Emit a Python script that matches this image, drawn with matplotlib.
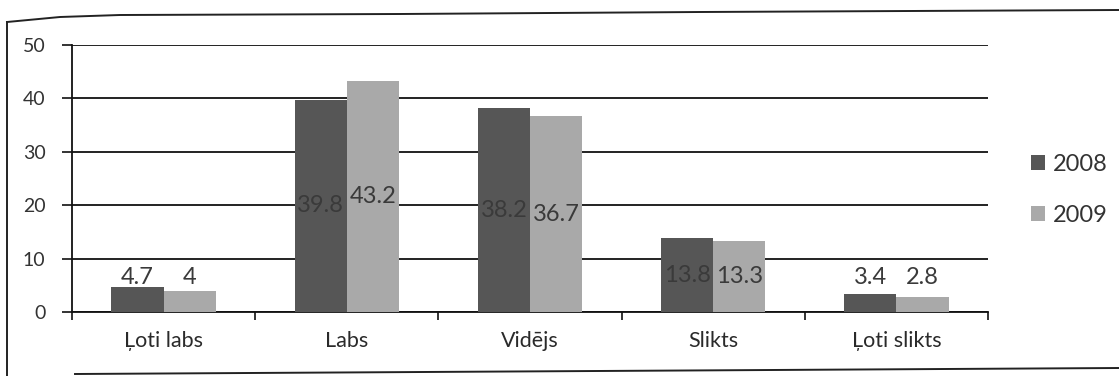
import matplotlib
matplotlib.use("Agg")
import matplotlib.pyplot as plt
from matplotlib.lines import Line2D
import numpy as np

plt.rcParams['font.family'] = ['Lato', 'DejaVu Sans']

categories = ["Ļoti labs", "Labs", "Vidējs", "Slikts", "Ļoti slikts"]
series_names = ["2008", "2009"]
values_2008 = [4.7, 39.8, 38.2, 13.8, 3.4]
values_2009 = [4, 43.2, 36.7, 13.3, 2.8]
y_ticks = [0, 10, 20, 30, 40, 50]

colors = ["#565656", "#a9a9a9"]
text_color = "#3a3a3a"

fig = plt.figure(figsize=(11.19, 3.76), dpi=100)
ax = fig.add_axes([0.0643, 0.1702, 0.8187, 0.7098])

x = np.arange(len(categories))
w = 0.285
series = [values_2008, values_2009]
offsets = [-w / 2, w / 2]

for vals, off, col, name in zip(series, offsets, colors, series_names):
    ax.bar(x + off, vals, width=w, color=col, label=name, zorder=3)
    for xi, v in zip(x + off, vals):
        ypos = max(v / 2, 6.4)
        ax.text(xi, ypos, f"{v:g}", ha="center", va="center",
                fontsize=17, color=text_color, zorder=4)

ax.set_xlim(-0.5, len(categories) - 0.5)
ax.set_ylim(0, 50)
ax.set_yticks(y_ticks)
ax.yaxis.grid(True, color="#111111", linewidth=1.3, zorder=0)
ax.set_axisbelow(True)

ax.set_xticks(x)
ax.set_xticklabels(categories)
ax.set_xticks(np.arange(-0.5, len(categories)), minor=True)
ax.tick_params(axis="x", which="major", length=0, pad=14, labelsize=15.5,
               labelcolor="#2a2a2a")
ax.tick_params(axis="x", which="minor", length=6, width=1.2, direction="out",
               color="#111111")
ax.tick_params(axis="y", length=7, width=1.2, pad=12, labelsize=14,
               labelcolor="#333333", color="#111111")

for side in ["top", "right"]:
    ax.spines[side].set_visible(False)
for side in ["left", "bottom"]:
    ax.spines[side].set_color("#111111")
    ax.spines[side].set_linewidth(1.3)

leg = ax.legend(loc="center left", bbox_to_anchor=(1.024, 0.458), frameon=False,
                fontsize=17, handlelength=0.6, handleheight=0.6,
                labelspacing=1.27, handletextpad=0.3)
for t in leg.get_texts():
    t.set_color("#333333")

# outer frame around the chart (pixel coordinates, y measured from the top)
W, H = 1119, 376
def fx(px):
    return [p / W for p in px]
def fy(py):
    return [1 - p / H for p in py]
frame_kw = dict(color="#222222", linewidth=1.4, transform=fig.transFigure)
fig.add_artist(Line2D(fx([7, 7]), fy([22, 376]), **frame_kw))
fig.add_artist(Line2D(fx([7, 60, 120, 400, 700, 1119]),
                      fy([22, 17, 15, 14, 12, 10]), **frame_kw))
fig.add_artist(Line2D(fx([75, 1119]), fy([374, 368]), **frame_kw))

fig.savefig("out.png", dpi=100)
